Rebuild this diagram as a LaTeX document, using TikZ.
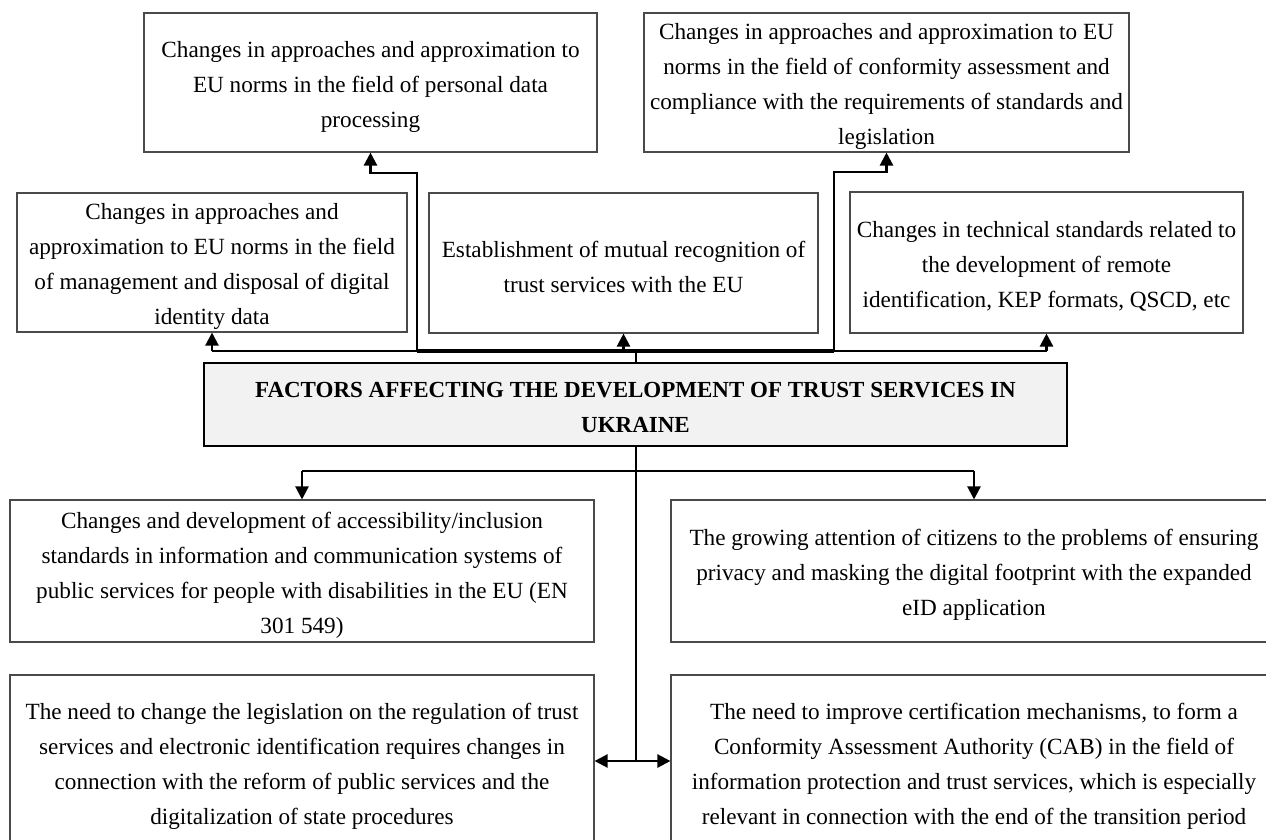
\documentclass[tikz,border=0pt]{standalone}
\usepackage{fontspec}
\setmainfont{Liberation Serif}
\usetikzlibrary{arrows.meta}
\definecolor{boxline}{HTML}{4A4A4A}
\definecolor{mainfill}{HTML}{F2F2F2}
\newcommand{\myTopStrut}{\rule{0pt}{24.5pt}}
\begin{document}
\begin{tikzpicture}[x=1pt,y=-1pt,
  every node/.style={font=\fontsize{23.2}{35}\selectfont},
  box/.style={draw=boxline, line width=1.1pt, inner xsep=0pt, inner ysep=0pt, align=center},
  mainbox/.style={draw=black, line width=1.6pt, fill=mainfill, inner xsep=0pt, inner ysep=0pt, align=center, font=\fontsize{23.0}{35}\selectfont\bfseries},
  conn/.style={draw=black, line width=2.3pt},
  arr/.style={conn, -{Triangle[length=13pt,width=13pt]}},
  darr/.style={conn, {Triangle[length=13pt,width=13pt]}-{Triangle[length=13pt,width=13pt]}}
]
\useasboundingbox (0,0) rectangle (1266,840);
\fill[white] (0,0) rectangle (1266,840);

\node[box, minimum width=453pt, minimum height=139pt] (TL) at (370.5,82.5)
  {\myTopStrut Changes in approaches and approximation to\\EU norms in the field of personal data\\processing};
\node[box, minimum width=485pt, minimum height=139pt] (TR) at (886.5,82.5)
  {\myTopStrut Changes in approaches and approximation to EU\\norms in the field of conformity assessment and\\compliance with the requirements of standards and\\legislation};
\node[box, minimum width=390pt, minimum height=139pt] (ML) at (212,262.5)
  {\myTopStrut Changes in approaches and\\approximation to EU norms in the field\\of management and disposal of digital\\identity data};
\node[box, minimum width=389pt, minimum height=140pt] (MC) at (623.5,263)
  {\myTopStrut Establishment of mutual recognition of\\trust services with the EU};
\node[box, minimum width=393pt, minimum height=141pt] (MR) at (1046.5,262.5)
  {\myTopStrut Changes in technical standards related to\\the development of remote\\identification, KEP formats, QSCD, etc};
\node[mainbox, minimum width=863pt, minimum height=83pt] (main) at (635.5,404.5)
  {\rule{0pt}{22pt}FACTORS AFFECTING THE DEVELOPMENT OF TRUST SERVICES IN\\UKRAINE};
\node[box, minimum width=584pt, minimum height=142pt] (BL1) at (302,571)
  {\myTopStrut Changes and development of accessibility/inclusion\\standards in information and communication systems of\\public services for people with disabilities in the EU (EN\\301 549)};
\node[box, minimum width=606pt, minimum height=142pt] (BR1) at (974,571)
  {\myTopStrut The growing attention of citizens to the problems of ensuring\\privacy and masking the digital footprint with the expanded\\eID application};
\node[box, minimum width=584pt, minimum height=174pt] (BL2) at (302,762)
  {\myTopStrut The need to change the legislation on the regulation of trust\\services and electronic identification requires changes in\\connection with the reform of public services and the\\digitalization of state procedures};
\node[box, minimum width=606pt, minimum height=174pt] (BR2) at (974,762)
  {\myTopStrut The need to improve certification mechanisms, to form a\\Conformity Assessment Authority (CAB) in the field of\\information protection and trust services, which is especially\\relevant in connection with the end of the transition period};

% upper bus
\coordinate (bus) at (636,351);
\coordinate (jl) at (417,351);
\coordinate (jr) at (834,351);
\draw[conn] (main.north -| bus) -- (bus);
\draw[conn] (ML.south |- bus) -- (MR.south |- bus);
\draw[conn, line width=3.4pt] (jl) -- (jr);
\draw[arr] (ML.south |- bus) -- (ML.south);
\draw[arr] (MC.south |- bus) -- (MC.south);
\draw[arr] (MR.south |- bus) -- (MR.south);
\draw[arr] (jl) -- ++(0,-178) -| (TL.south);
\draw[arr] (jr) -- ++(0,-179) -| (TR.south);

% lower bus
\coordinate (lbus) at (636,471);
\coordinate (dj) at (636,761);
\draw[conn] (main.south -| lbus) -- (dj);
\draw[conn] (BL1.north |- lbus) -- (BR1.north |- lbus);
\draw[arr] (BL1.north |- lbus) -- (BL1.north);
\draw[arr] (BR1.north |- lbus) -- (BR1.north);
\draw[darr] (BL2.east |- dj) -- (BR2.west |- dj);
\end{tikzpicture}
\end{document}
